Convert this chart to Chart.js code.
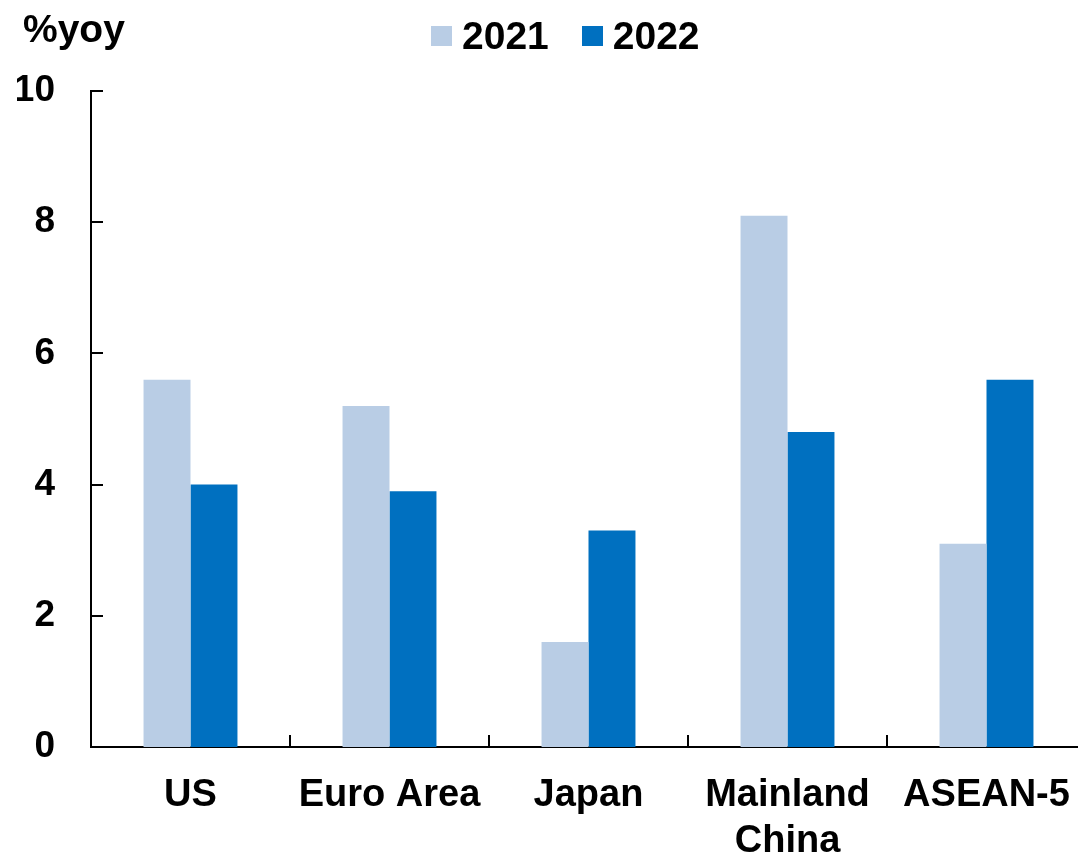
<!DOCTYPE html>
<html>
<head>
<meta charset="utf-8">
<script src="https://cdn.jsdelivr.net/npm/chart.js@4"></script>
<style>
  body { margin: 0; overflow: hidden; background: #fff; font-family: "Liberation Sans", Arial, sans-serif; }
  #wrap { position: absolute; left: 0; top: 0; width: 1100px; height: 858px; }
  .unit { position: absolute; left: 23px; top: 5px; font-weight: bold; font-size: 39px; line-height: 48px; color: #000; }
  #legend { position: absolute; left: 431px; top: 12px; display: flex; align-items: center; height: 48px; font-weight: bold; font-size: 39px; color: #000; }
  #legend .item { display: flex; align-items: center; margin-right: 33px; }
  #legend .box { width: 21px; height: 20px; margin-right: 10px; }
</style>
</head>
<body>
<div id="wrap"><canvas id="chart"></canvas></div>
<div class="unit">%yoy</div>
<div id="legend"></div>
<script>
const categories = ['US', 'Euro Area', 'Japan', ['Mainland', 'China'], 'ASEAN-5'];
const growth2021 = [5.6, 5.2, 1.6, 8.1, 3.1];
const growth2022 = [4.0, 3.9, 3.3, 4.8, 5.6];
const yTicks = [0, 2, 4, 6, 8, 10];

const font = { family: '"Liberation Sans", Arial, sans-serif', weight: 'bold' };

// tick marks pointing into the plot area
const innerTicks = {
    id: 'innerTicks',
    afterDraw(chart) {
        const { ctx, chartArea, scales: { x, y } } = chart;
        ctx.save();
        ctx.strokeStyle = '#000';
        ctx.lineWidth = 2;
        ctx.beginPath();
        y.ticks.forEach(t => {
            const py = Math.round(y.getPixelForValue(t.value));
            ctx.moveTo(chartArea.left, py);
            ctx.lineTo(chartArea.left + 12, py);
        });
        const half = (x.getPixelForValue(1) - x.getPixelForValue(0)) / 2;
        for (let i = 0; i <= categories.length; i++) {
            const px = Math.round(x.getPixelForValue(i) - half);
            ctx.moveTo(px, chartArea.bottom);
            ctx.lineTo(px, chartArea.bottom - 12);
        }
        ctx.stroke();
        ctx.restore();
    }
};

const chart = new Chart(document.getElementById('chart').getContext('2d'), {
    type: 'bar',
    data: {
        labels: categories,
        datasets: [
            { label: '2021', data: growth2021, backgroundColor: '#B9CDE5' },
            { label: '2022', data: growth2022, backgroundColor: '#0070C0' }
        ]
    },
    options: {
        responsive: true,
        maintainAspectRatio: false,
        animation: false,
        categoryPercentage: 0.472,
        barPercentage: 1.0,
        layout: { padding: { left: 17, top: 91, right: 14, bottom: 0 } },
        plugins: {
            legend: { display: false },
            tooltip: { enabled: false }
        },
        scales: {
            x: {
                afterFit: axis => { axis.height = 111; },
                grid: { display: false, drawTicks: false },
                border: { display: true, color: '#000', width: 2 },
                ticks: {
                    color: '#000',
                    padding: 26,
                    maxRotation: 0,
                    autoSkip: false,
                    font: { ...font, size: 38, lineHeight: 1.2 }
                }
            },
            y: {
                min: 0,
                max: 10,
                afterBuildTicks: axis => { axis.ticks = yTicks.map(v => ({ value: v })); },
                afterFit: axis => { axis.width = 74; },
                grid: { display: false, drawTicks: false },
                border: { display: true, color: '#000', width: 2 },
                ticks: {
                    color: '#000',
                    padding: 36,
                    font: { ...font, size: 37 }
                }
            }
        }
    },
    plugins: [innerTicks]
});

// legend built from the datasets
const legend = document.getElementById('legend');
chart.data.datasets.forEach(ds => {
    const item = document.createElement('div');
    item.className = 'item';
    const box = document.createElement('span');
    box.className = 'box';
    box.style.background = ds.backgroundColor;
    const text = document.createElement('span');
    text.textContent = ds.label;
    item.appendChild(box);
    item.appendChild(text);
    legend.appendChild(item);
});
</script>
</body>
</html>
